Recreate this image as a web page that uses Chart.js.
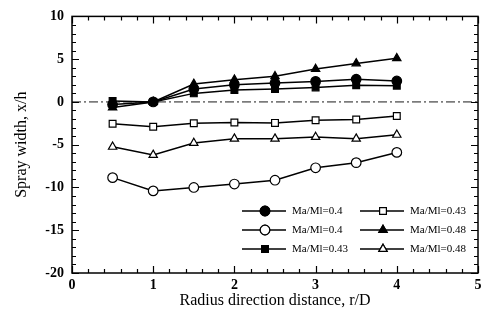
<!DOCTYPE html>
<html>
<head>
<meta charset="utf-8">
<script src="https://cdn.jsdelivr.net/npm/chart.js@4"></script>
<style>
  html, body { margin: 0; padding: 0; background: #fff; }
  #wrap { width: 488px; height: 327px; }
</style>
</head>
<body>
<div id="wrap"><canvas id="myChart"></canvas></div>
<script>
// values
const rD = [0.5, 1, 1.5, 2, 2.5, 3, 3.5, 4];
const solid04 = [-0.3, 0, 1.5, 2.0, 2.2, 2.4, 2.65, 2.45];
const open04 = [-8.85, -10.4, -10.0, -9.6, -9.15, -7.7, -7.1, -5.9];
const solid043 = [0.1, 0, 1.0, 1.4, 1.5, 1.7, 1.95, 1.9];
const open043 = [-2.55, -2.9, -2.5, -2.4, -2.45, -2.15, -2.05, -1.65];
const solid048 = [-0.65, 0, 2.1, 2.6, 3.0, 3.85, 4.5, 5.1];
const open048 = [-5.25, -6.2, -4.8, -4.3, -4.3, -4.1, -4.3, -3.85];
const zeroLineX = [0, 5];
const zeroLineY = [0, 0];
const yTickLabels = [10, 5, 0, -5, -10, -15, -20];
const xTickLabels = [0, 1, 2, 3, 4, 5];

const serif = '"Liberation Serif", "DejaVu Serif", serif';

function series(label, ys, shape, filled) {
    return {
        label: label,
        data: rD.map((x, i) => ({ x: x, y: ys[i] })),
        borderColor: '#000',
        borderWidth: 1.5,
        pointStyle: shape,
        pointRadius: 4.8,
        pointBorderWidth: 1.2,
        pointBorderColor: '#000',
        pointBackgroundColor: filled ? '#000' : '#fff',
        showLine: true,
        tension: 0
    };
}

// inward tick marks, box frame and the two-column legend inside the plot
const framePlugin = {
    id: 'frame',
    afterDraw(chart) {
        const ctx = chart.ctx;
        const a = chart.chartArea;
        const xs = chart.scales.x, ys = chart.scales.y;
        ctx.save();
        ctx.strokeStyle = '#000';
        ctx.lineWidth = 1.5;
        ctx.strokeRect(a.left, a.top, a.right - a.left, a.bottom - a.top);
        ctx.lineWidth = 1.2;
        ctx.beginPath();
        for (let v = 0; v <= 5.001; v += 0.2) {
            const px = Math.round(xs.getPixelForValue(v)) + 0.5;
            const major = Math.abs(v - Math.round(v)) < 0.01;
            const len = major ? 7 : 4;
            ctx.moveTo(px, a.bottom); ctx.lineTo(px, a.bottom - len);
            ctx.moveTo(px, a.top); ctx.lineTo(px, a.top + len);
        }
        for (let v = -20; v <= 10; v += 1) {
            const py = Math.round(ys.getPixelForValue(v)) + 0.5;
            const len = v % 5 === 0 ? 7 : 4;
            ctx.moveTo(a.left, py); ctx.lineTo(a.left + len, py);
            ctx.moveTo(a.right, py); ctx.lineTo(a.right - len, py);
        }
        ctx.stroke();

        // legend
        const cols = [{ x: 242, items: [0, 1, 2] }, { x: 360, items: [3, 4, 5] }];
        const rows = [211, 230, 249];
        ctx.font = '11px ' + serif;
        ctx.textBaseline = 'middle';
        ctx.fillStyle = '#000';
        cols.forEach(c => {
            c.items.forEach((di, r) => {
                const ds = chart.data.datasets[di];
                const y = rows[r];
                ctx.lineWidth = 1.5;
                ctx.beginPath();
                ctx.moveTo(c.x, y); ctx.lineTo(c.x + 44, y);
                ctx.stroke();
                ctx.fillStyle = ds.pointBackgroundColor;
                ctx.lineWidth = 1.2;
                Chart.helpers.drawPoint(ctx, {
                    pointStyle: ds.pointStyle, radius: 4.8, borderWidth: 1.2, rotation: 0
                }, c.x + 23, y);
                ctx.fill();
                ctx.stroke();
                ctx.fillStyle = '#000';
                ctx.fillText(ds.label, c.x + 50, y);
            });
        });
        ctx.restore();
    }
};

new Chart(document.getElementById('myChart'), {
    type: 'scatter',
    data: {
        datasets: [
            series('Ma/Ml=0.4', solid04, 'circle', true),
            series('Ma/Ml=0.4', open04, 'circle', false),
            series('Ma/Ml=0.43', solid043, 'rect', true),
            series('Ma/Ml=0.43', open043, 'rect', false),
            series('Ma/Ml=0.48', solid048, 'triangle', true),
            series('Ma/Ml=0.48', open048, 'triangle', false),
            {
                label: 'zero',
                data: zeroLineX.map((x, i) => ({ x: x, y: zeroLineY[i] })),
                borderColor: '#000',
                borderWidth: 0.9,
                borderDash: [9, 3, 2, 3],
                pointRadius: 0,
                showLine: true
            }
        ]
    },
    options: {
        animation: false,
        responsive: true,
        maintainAspectRatio: false,
        layout: { padding: { top: 9, right: 10, left: 12, bottom: 0 } },
        plugins: {
            legend: { display: false },
            tooltip: { enabled: false }
        },
        scales: {
            x: {
                type: 'linear',
                min: 0,
                max: 5,
                afterFit: s => { s.height = 54; },
                afterBuildTicks: s => { s.ticks = xTickLabels.map(v => ({ value: v })); },
                grid: { display: false, drawTicks: false },
                border: { display: false },
                ticks: {
                    color: '#000',
                    padding: 4,
                    font: { family: serif, size: 14, weight: 'bold' }
                },
                title: {
                    display: true,
                    text: 'Radius direction distance, r/D',
                    color: '#000',
                    font: { family: serif, size: 16 },
                    padding: { top: 6, bottom: 17 }
                }
            },
            y: {
                min: -20,
                max: 10,
                afterFit: s => { s.width = 60; },
                afterBuildTicks: s => { s.ticks = yTickLabels.map(v => ({ value: v })); },
                grid: { display: false, drawTicks: false },
                border: { display: false },
                ticks: {
                    color: '#000',
                    padding: 8,
                    font: { family: serif, size: 14, weight: 'bold' }
                },
                title: {
                    display: true,
                    text: 'Spray width, x/h',
                    color: '#000',
                    font: { family: serif, size: 16 },
                    padding: { top: 0, bottom: 4 }
                }
            }
        }
    },
    plugins: [framePlugin]
});
</script>
</body>
</html>
